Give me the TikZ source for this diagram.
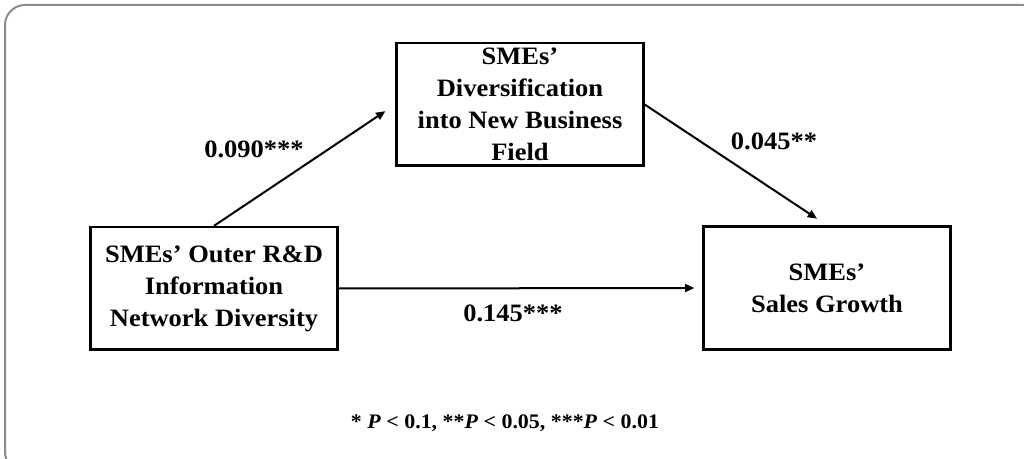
\documentclass[tikz,border=0pt]{standalone}
\usepackage{fontspec}
\setmainfont{Liberation Serif}[FakeStretch=1.06]
\usetikzlibrary{arrows.meta}

\begin{document}
\begin{tikzpicture}[x=0.75pt,y=-0.75pt,
    box/.style={draw,line width=2pt,minimum width=185pt,minimum height=92pt,
      inner sep=0pt,align=center,font=\bfseries\fontsize{18.75}{24}\selectfont,
      execute at begin node={\rule{0pt}{23pt}}},
    arr/.style={-{Triangle[length=7pt,width=6pt]},line width=1.5pt},
    coef/.style={anchor=base,font=\bfseries\fontsize{18.75}{24}\selectfont}]
          \useasboundingbox (0,0) rectangle (1024,459);
          \clip (0,0) rectangle (1024,459);
          \draw[black!45,line width=1.5pt,rounded corners=15pt]
          (5,5) rectangle (1042,472);
          % the three variables
          \node[box] (rnd) at (214,288.5) {SMEs’ Outer R\&D\\Information\\Network Diversity};
          \node[box] (div) at (520,104.5) {SMEs’\\Diversification\\into New Business\\Field};
          \node[box] (sales) at (827,288) {SMEs’\\Sales Growth};
          % paths
          \draw[arr,shorten >=9pt] (rnd.north) -- (div.west);
          \draw[arr,shorten >=9pt] (div.east) -- (sales.north);
          \draw[arr,shorten >=6pt] (rnd.east) -- (sales.west);
          \node[coef] (a) at (254,158) {0.090***};
          \node[coef] (b) at (774,150) {0.045**};
          \node[coef] (c) at (513,322) {0.145***};
          \node[anchor=base,font=\bfseries\fontsize{15.5}{18}\selectfont] (note)
          at (505,428) {* \textit{P} < 0.1, **\textit{P} < 0.05, ***\textit{P} < 0.01};
        \end{tikzpicture}
\end{document}
